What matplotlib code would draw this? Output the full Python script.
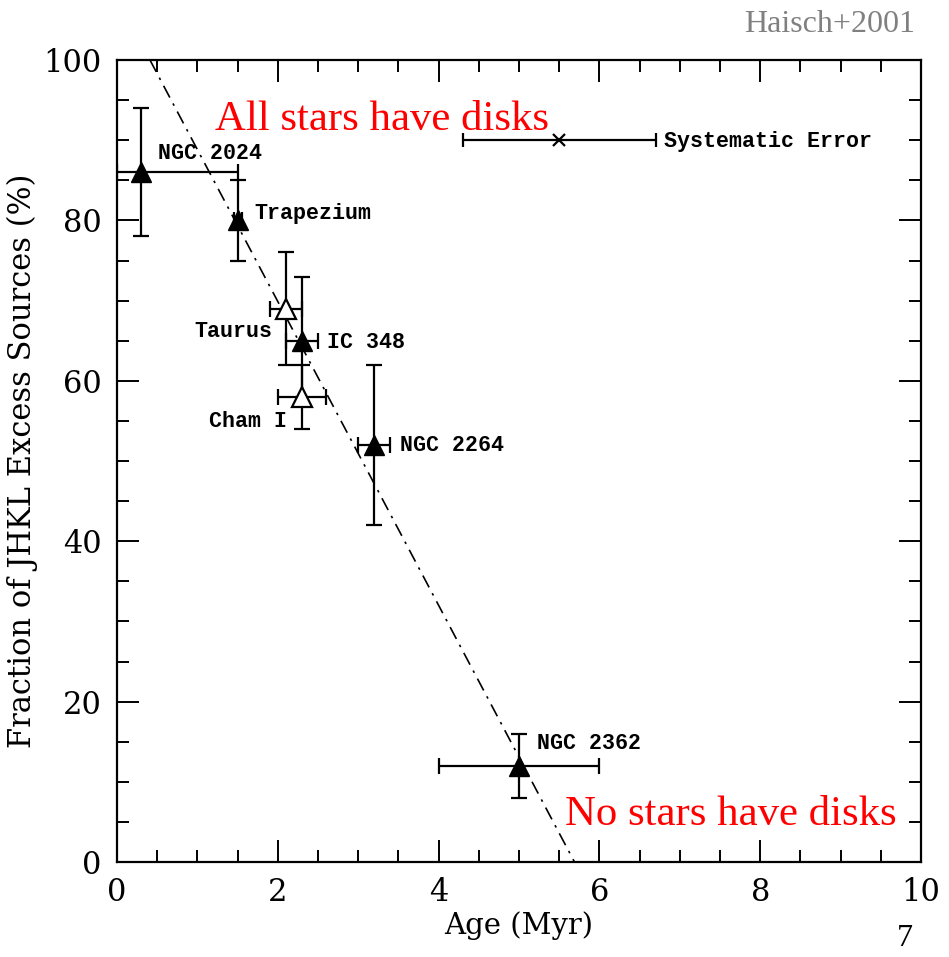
import matplotlib.pyplot as plt
from matplotlib.ticker import MultipleLocator

# Данные (Haisch+2001)
names = ['NGC 2024', 'Trapezium', 'IC 348', 'NGC 2264', 'NGC 2362']
age = [0.3, 1.5, 2.3, 3.2, 5.0]
frac = [86, 80, 65, 52, 12]
age_lo = [0.3, 0.05, 0.2, 0.2, 1.0]
age_hi = [1.2, 0.05, 0.2, 0.2, 1.0]
frac_lo = [8, 5, 8, 10, 4]
frac_hi = [8, 5, 8, 10, 4]

open_names = ['Taurus', 'Cham I']
open_age = [2.1, 2.3]
open_frac = [69, 58]
open_age_err = [0.2, 0.3]
open_frac_err = [7, 4]

sys_age = 5.5
sys_frac = 90
sys_err = 1.2

fit_x = [0.41, 5.69]
fit_y = [100, 0]

fig = plt.figure(figsize=(9.49, 9.57), dpi=100)
ax = fig.add_axes([117 / 949, 95 / 957, 804 / 949, 802 / 957])

lw = 1.6
ax.errorbar(age, frac, xerr=[age_lo, age_hi], yerr=[frac_lo, frac_hi],
            fmt='^', color='black', ms=15, elinewidth=lw, capsize=6, capthick=lw)
ax.errorbar(open_age, open_frac, xerr=open_age_err, yerr=open_frac_err,
            fmt='^', mfc='white', mec='black', mew=1.6, color='black', ms=15,
            elinewidth=lw, capsize=6, capthick=lw)
ax.errorbar(sys_age, sys_frac, xerr=sys_err, fmt='x', color='black', ms=8,
            mew=1.6, elinewidth=lw, capsize=5, capthick=lw)
ax.plot(fit_x, fit_y, color='black', lw=1.2, linestyle=(0, (8, 4, 1.5, 4)))

# Подписи
lab = dict(family='Liberation Mono', fontweight='bold', fontsize=15.6, va='center')
ax.text(0.51, 88.3, 'NGC 2024', **lab)
ax.text(1.71, 80.8, 'Trapezium', **lab)
ax.text(1.93, 66.2, 'Taurus', ha='right', **lab)
ax.text(2.61, 64.8, 'IC 348', **lab)
ax.text(2.12, 54.9, 'Cham I', ha='right', **lab)
ax.text(3.52, 51.9, 'NGC 2264', **lab)
ax.text(5.22, 14.8, 'NGC 2362', **lab)
ax.text(6.8, 89.9, 'Systematic Error', **lab)

red = dict(family='Liberation Serif', fontsize=30.8, color='red')
ax.text(1.22, 91.3, 'All stars have disks', **red)
ax.text(5.57, 4.6, 'No stars have disks', **red)

fig.text(915 / 949, 1 - 25 / 957, 'Haisch+2001', family='Liberation Serif',
         fontsize=23, color='gray', ha='right', va='center')
fig.text(905 / 949, 4 / 957, '7', family='Liberation Serif',
         fontsize=23, color='black', ha='center', va='bottom')

ax.set_xlim(0, 10)
ax.set_ylim(0, 100)
ax.xaxis.set_major_locator(MultipleLocator(2))
ax.xaxis.set_minor_locator(MultipleLocator(0.5))
ax.yaxis.set_major_locator(MultipleLocator(20))
ax.yaxis.set_minor_locator(MultipleLocator(5))
ax.tick_params(which='both', direction='in', top=True, right=True, width=1.4)
ax.tick_params(which='major', length=16, pad=11)
ax.tick_params(which='minor', length=8.5)
for lbl in ax.get_xticklabels() + ax.get_yticklabels():
    lbl.set_family('DejaVu Serif')
    lbl.set_fontsize(22)
for sp in ax.spines.values():
    sp.set_linewidth(1.6)

ax.set_xlabel('Age (Myr)', family='DejaVu Serif', fontsize=21, labelpad=2)
ax.set_ylabel('Fraction of JHKL Excess Sources (%)', family='DejaVu Serif',
              fontsize=22, labelpad=4)

fig.savefig('out.png', dpi=100)
